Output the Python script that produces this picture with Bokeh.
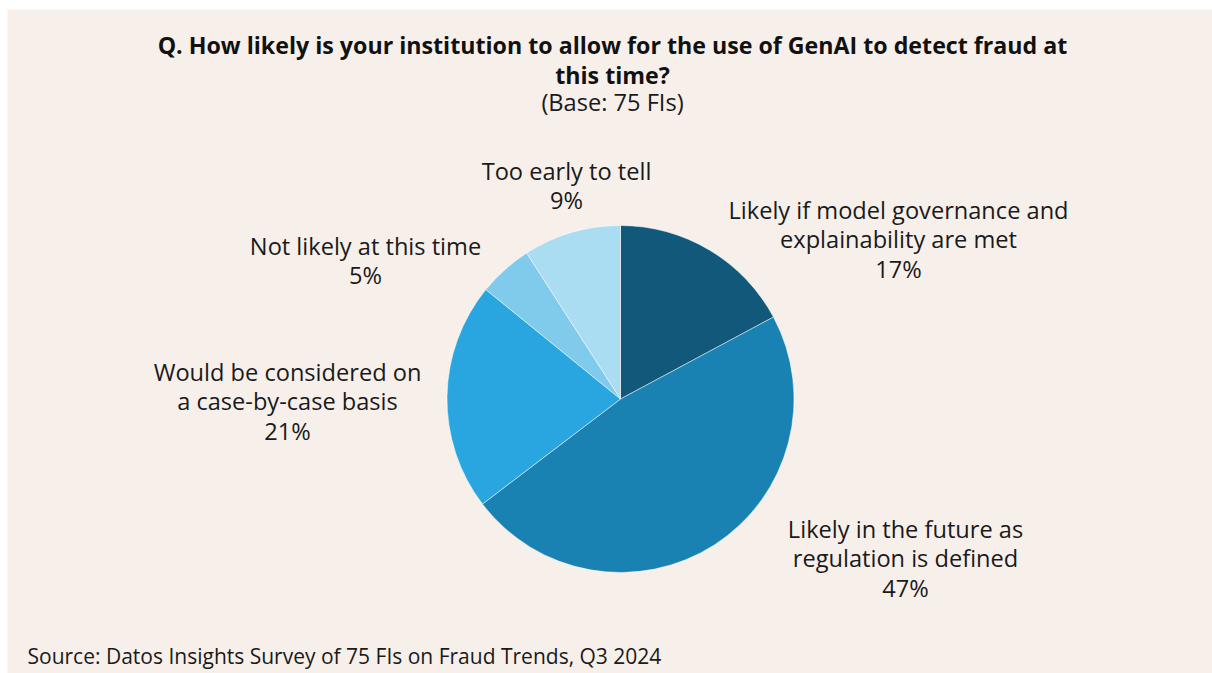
import numpy as np
from bokeh.plotting import figure
from bokeh.models import Range1d, ColumnDataSource
from bokeh.core.properties import value
from bokeh.embed import file_html
from bokeh.resources import INLINE

# ---- data ----
categories = [
    "Likely if model governance and\nexplainability are met",
    "Likely in the future as\nregulation is defined",
    "Would be considered on\na case-by-case basis",
    "Not likely at this time",
    "Too early to tell",
]
percents = [17, 47, 21, 5, 9]
colors = ["#12587a", "#1a82b2", "#29a6df", "#80cbeb", "#aadcf2"]

title_lines = ["Q. How likely is your institution to allow for the use of GenAI to detect fraud at",
               "this time?"]
subtitle = "(Base: 75 FIs)"
source_note = "Source: Datos Insights Survey of 75 FIs on Fraud Trends, Q3 2024"

# ---- layout (pixel coordinates, y measured from top) ----
W, H = 1212, 673
FONT = "Open Sans"
pie_cx, pie_cy, pie_r = 620, 398.5, 173.5
label_pos = [(898, 209), (905, 528), (287, 371), (365, 245), (566, 170)]
line_gap = 29.5

def Y(ypx):
    return H - ypx

p = figure(width=W, height=H, x_range=Range1d(0, W), y_range=Range1d(0, H),
           output_backend="svg", toolbar_location=None, min_border=0)
p.axis.visible = False
p.grid.visible = False
p.outline_line_color = None
p.background_fill_color = "white"
p.border_fill_color = "white"

# beige panel
p.quad(left=7, right=W, bottom=0, top=Y(9), fill_color="#f7f0ea", line_color=None)

# pie wedges
frac = np.array(percents, dtype=float) / sum(percents)
cum = np.concatenate([[0], np.cumsum(frac)])
start = np.pi / 2 - cum[:-1] * 2 * np.pi
end = np.pi / 2 - cum[1:] * 2 * np.pi
src = ColumnDataSource(dict(start=start, end=end, color=colors))
p.wedge(x=pie_cx, y=Y(pie_cy), radius=pie_r, start_angle="start", end_angle="end",
        direction="clock", fill_color="color", line_color="#ffffff", line_alpha=0.6,
        line_width=0.8, source=src)

# labels
lx, ly, lt = [], [], []
for cat, pct, (x0, y0) in zip(categories, percents, label_pos):
    lines = cat.split("\n") + [f"{pct}%"]
    for i, ln in enumerate(lines):
        lx.append(x0)
        ly.append(Y(y0 + i * line_gap))
        lt.append(ln)
p.text(x=lx, y=ly, text=lt, text_font=value(FONT), text_font_size="23.6px",
       text_align="center", text_baseline="middle", text_color="#1a1a1a")

# title
p.text(x=[612, 612], y=[Y(44), Y(74)], text=title_lines, text_font=value(FONT),
       text_font_size="23.2px", text_font_style="bold", text_align="center",
       text_baseline="middle", text_color="#111111")
p.text(x=[612], y=[Y(101)], text=[subtitle], text_font=value(FONT),
       text_font_size="23.6px", text_align="center", text_baseline="middle",
       text_color="#1a1a1a")

# source
p.text(x=[27], y=[Y(655)], text=[source_note], text_font=value(FONT),
       text_font_size="21px", text_align="left", text_baseline="middle",
       text_color="#1a1a1a")

open("out.html", "w").write(file_html(p, INLINE))
